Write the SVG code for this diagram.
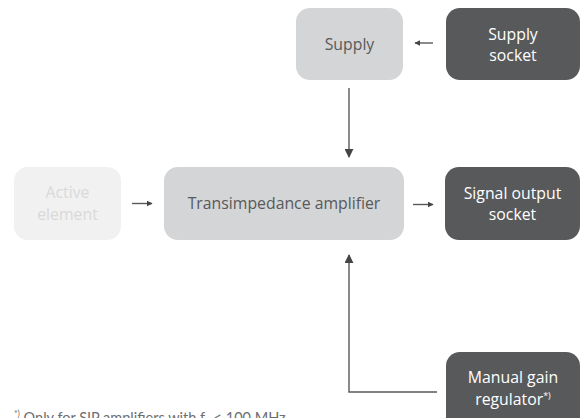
<svg xmlns="http://www.w3.org/2000/svg" width="582" height="418" viewBox="0 0 582 418">
<defs>
<style>
.light{fill:#d4d5d6}
.faint{fill:#f1f1f1}
.dark{fill:#58595b}
.t{font-family:"Open Sans","Liberation Sans",sans-serif;font-size:15.8px;text-anchor:middle}
.tl{fill:#58595b}
.tf{fill:#d9d9d9}
.td{fill:#ffffff}
.c{fill:none;stroke:#58595b;stroke-width:1.4}
.fn{font-family:Lato,"Open Sans","Liberation Sans",sans-serif;font-size:14.5px;fill:#6d6e70}
</style>
<marker id="ah" viewBox="0 0 10 10" refX="9" refY="5" markerWidth="6" markerHeight="6" orient="auto" markerUnits="userSpaceOnUse">
<path d="M0,0 L10,5 L0,10 z" fill="#444546"/>
</marker>
<marker id="ah2" viewBox="0 0 10 10" refX="9" refY="5" markerWidth="9" markerHeight="9" orient="auto" markerUnits="userSpaceOnUse">
<path d="M0,0 L10,5 L0,10 z" fill="#444546"/>
</marker>
</defs>
<rect width="582" height="418" fill="#ffffff"/>
<g id="supply">
<rect class="light" x="296" y="8" width="107" height="72" rx="14"/>
<text class="t tl" x="349.5" y="49.5">Supply</text>
</g>
<g id="supply-socket">
<rect class="dark" x="446" y="8" width="134" height="72" rx="14"/>
<text class="t td" x="513" y="39.5">Supply</text>
<text class="t td" x="513" y="61">socket</text>
</g>
<g id="active-element">
<rect class="faint" x="14" y="167" width="107" height="73" rx="14"/>
<text class="t tf" x="67.5" y="198">Active</text>
<text class="t tf" x="67.5" y="219.5">element</text>
</g>
<g id="amplifier">
<rect class="light" x="164" y="167" width="240" height="73" rx="14"/>
<text class="t tl" x="284" y="209">Transimpedance amplifier</text>
</g>
<g id="signal-output">
<rect class="dark" x="445" y="167" width="135" height="73" rx="14"/>
<text class="t td" x="512.5" y="198.5">Signal output</text>
<text class="t td" x="512.5" y="220">socket</text>
</g>
<g id="manual-gain">
<rect class="dark" x="446" y="352" width="134" height="80" rx="14"/>
<text class="t td" x="513" y="383">Manual gain</text>
<text class="t td" x="513" y="404.5">regulator<tspan font-size="9" dy="-6">*)</tspan></text>
</g>
<g id="connectors">
<path class="c" d="M433,43 L415,43" marker-end="url(#ah)"/>
<path class="c" d="M132,203.5 L152,203.5" marker-end="url(#ah)"/>
<path class="c" d="M413,204.5 L433,204.5" marker-end="url(#ah)"/>
<path class="c" d="M349,88 L349,157" marker-end="url(#ah2)"/>
<path class="c" d="M437,392 L349,392 L349,255" marker-end="url(#ah2)"/>
</g>
<text class="fn" x="14" y="423"><tspan font-size="8.5" dy="-6">*)</tspan><tspan dy="6"> Only for SIP amplifiers with f</tspan><tspan font-size="10" dy="3">c</tspan><tspan dy="-3"> &lt; 100 MHz</tspan></text>
</svg>
